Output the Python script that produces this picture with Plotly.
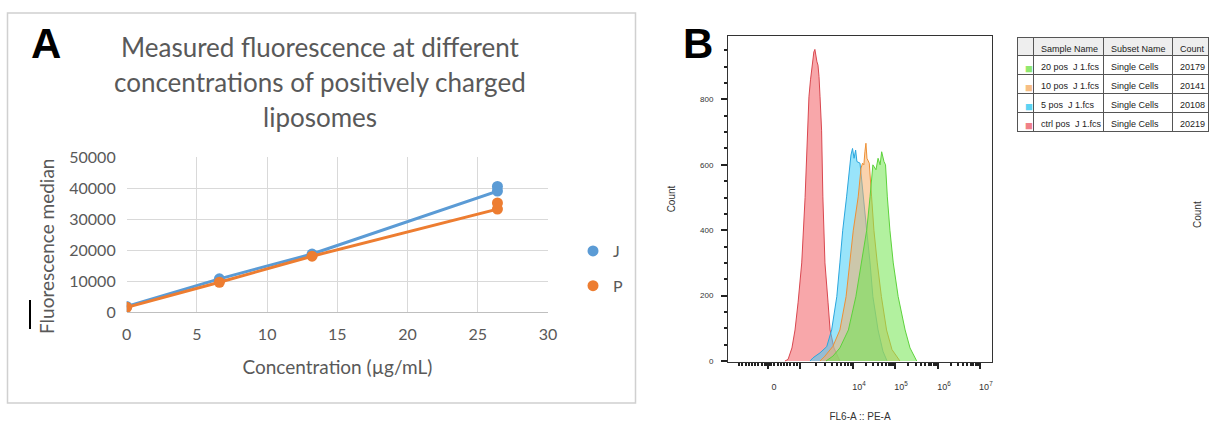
import math
import plotly.graph_objects as go

W, H = 1210, 426

# ---- panel A data (Excel chart) ----
conc = [0, 6.6, 13.2, 26.4, 26.4]
j_median = [1800, 10700, 18700, 39000, 40500]
p_median = [1500, 9600, 18000, 33200, 35200]

# ---- panel B data (flow histograms, x in display channels 0-1024) ----
ctrl_x = [221, 233, 248, 260, 272, 286, 299, 310, 314, 320, 326, 330, 333, 337, 341, 345, 349, 353, 357, 363, 368, 376, 388, 396, 411, 434]
ctrl_y = [0, 5, 40, 95, 180, 300, 500, 710, 808, 860, 900, 935, 945, 953, 930, 915, 905, 870, 808, 706, 502, 300, 180, 95, 40, 0]

pos5_x = [318, 330, 357, 383, 402, 422, 434, 445, 460, 469, 477, 483, 489, 495, 500, 512, 524, 538, 551, 562, 582, 601, 617]
pos5_y = [0, 10, 25, 44, 95, 197, 300, 400, 502, 580, 630, 650, 620, 645, 610, 605, 502, 400, 300, 197, 95, 30, 0]

pos10_x = [357, 376, 407, 434, 458, 473, 486, 505, 516, 522, 527, 531, 535, 539, 548, 557, 566, 579, 595, 615, 636, 667]
pos10_y = [0, 15, 45, 95, 197, 300, 400, 502, 590, 605, 600, 640, 666, 620, 605, 502, 400, 300, 197, 95, 35, 0]

pos20_x = [380, 407, 434, 467, 496, 518, 538, 551, 562, 574, 582, 590, 596, 605, 611, 618, 628, 641, 660, 687, 706, 732]
pos20_y = [0, 15, 40, 95, 197, 300, 400, 502, 600, 585, 620, 600, 640, 610, 600, 502, 400, 300, 197, 95, 40, 0]

# decade tick positions on the biexponential display axis
x_tick_pos = [155, 279, 485, 648, 815, 977]
x_tick_text = ["0", "", "10<sup>4</sup>", "10<sup>5</sup>", "10<sup>6</sup>", "10<sup>7</sup>"]

sample_names = ["20 pos  J 1.fcs", "10 pos  J 1.fcs", "5 pos  J 1.fcs", "ctrl pos  J 1.fcs"]
subset_names = ["Single Cells"] * 4
counts = ["20179", "20141", "20108", "20219"]


def px(x):
    return x / W


def py(y):
    return 1 - y / H


def nobreak(s):
    return s.replace(" ", "\u00a0")


# minor ticks for the flow x axis
minor_x = []
zero, k3 = x_tick_pos[0], x_tick_pos[1]
for m in range(1, 10):
    minor_x.append(zero + m / 10 * (k3 - zero))
    minor_x.append(zero - m / 10 * (k3 - zero))
for i in range(1, 5):
    a, b = x_tick_pos[i], x_tick_pos[i + 1]
    for m in range(2, 10):
        minor_x.append(a + math.log10(m) * (b - a))
minor_x += [zero - 6, zero - 4, zero - 2, zero + 2, zero + 4]

fig = go.Figure()

blue, orange = "#5B9BD5", "#ED7D31"
for name, vals, col in [("J", j_median, blue), ("P", p_median, orange)]:
    fig.add_trace(go.Scatter(x=conc, y=vals, mode="lines", line=dict(color=col, width=3),
                             showlegend=False, hoverinfo="skip"))
    fig.add_trace(go.Scatter(x=conc, y=vals, mode="markers", name=name, legendgroup=name,
                             marker=dict(color=col, size=11)))

hist = [
    (ctrl_x, ctrl_y, "#D9474F", "rgba(242,95,100,0.55)"),
    (pos5_x, pos5_y, "#2AA6DE", "rgba(70,205,245,0.55)"),
    (pos10_x, pos10_y, "#EE9035", "rgba(246,175,105,0.55)"),
    (pos20_x, pos20_y, "#5DD23C", "rgba(115,230,80,0.55)"),
]
for xs, ys, lc, fc in hist:
    fig.add_trace(go.Scatter(x=xs, y=ys, mode="lines", fill="tozeroy", fillcolor=fc,
                             line=dict(color=lc, width=1), showlegend=False,
                             xaxis="x2", yaxis="y2"))

sq_colors = ["#8FE870", "#F7BE85", "#5CD3F3", "#F08088"]
tfont = "Liberation Sans"
fig.add_trace(go.Table(
    domain=dict(x=[px(1017), px(1208)], y=[py(132), py(37)]),
    columnwidth=[16, 70, 69, 36],
    header=dict(values=["", nobreak("Sample Name"), nobreak("Subset Name"), "Count"], height=18,
                fill_color="#EEEEEE", line=dict(color="#555555", width=1), align="left",
                font=dict(family=tfont, size=9, color="#222222")),
    cells=dict(values=[["■"] * 4, [nobreak(s) for s in sample_names],
                       [nobreak(s) for s in subset_names], counts], height=19,
               fill_color="white", line=dict(color="#555555", width=1), align="left",
               font=dict(family=tfont, size=[13, 9, 9, 9],
                         color=[sq_colors, "#222222", "#222222", "#222222"])),
))

grey = "#595959"
afont = dict(family="Lato", size=16, color=grey)
fig.update_layout(
    width=W, height=H, margin=dict(l=0, r=0, t=0, b=0, autoexpand=False),
    paper_bgcolor="white", plot_bgcolor="white",
    font=dict(family="Lato", color=grey),
    xaxis=dict(domain=[px(126.7), px(548)], range=[0, 30], dtick=5, showgrid=True,
               gridcolor="#D9D9D9", showline=True, linecolor="#BFBFBF", zeroline=False,
               tickfont=afont, ticklabelstandoff=8, automargin=False,
               title=dict(text="Concentration (µg/mL)", font=dict(family="Lato", size=19, color=grey), standoff=18)),
    yaxis=dict(domain=[py(312), py(157)], range=[0, 50000], dtick=10000, showgrid=True,
               gridcolor="#D9D9D9", zeroline=False, tickfont=afont, ticklabelstandoff=10,
               tickformat="d", automargin=False),
    xaxis2=dict(domain=[px(728), px(992)], range=[0, 1024], anchor="y2", showgrid=False,
                zeroline=False, showline=True, mirror=True, linecolor="#333333", linewidth=1,
                tickvals=x_tick_pos, ticktext=x_tick_text, ticks="outside", ticklen=6, tickwidth=2,
                tickcolor="#222222", ticklabelshift=6, ticklabelstandoff=10, automargin=False,
                tickfont=dict(family="Liberation Sans", size=9, color="#333333"),
                minor=dict(tickvals=minor_x, ticks="outside", ticklen=3, tickcolor="#222222"),
                title=dict(text="FL6-A :: PE-A", font=dict(family="Liberation Sans", size=10, color="#333333"), standoff=22)),
    yaxis2=dict(domain=[py(362), py(36)], range=[-3, 994], anchor="x2", showgrid=False,
                zeroline=False, showline=True, mirror=True, linecolor="#333333", linewidth=1,
                tickvals=[0, 200, 400, 600, 800], ticks="outside", ticklen=6, tickwidth=2,
                tickcolor="#222222", ticklabelstandoff=6, automargin=False,
                tickfont=dict(family="Liberation Sans", size=8, color="#333333"),
                minor=dict(dtick=50, ticks="outside", ticklen=3, tickcolor="#222222"),
                title=dict(text="Count", font=dict(family="Liberation Sans", size=10, color="#333333"), standoff=22)),
    legend=dict(x=px(573), y=py(234), xanchor="left", yanchor="top", traceorder="grouped",
                tracegroupgap=11, font=dict(family="Lato", size=16, color=grey),
                bgcolor="rgba(0,0,0,0)", itemwidth=30),
)

title_lines = ["Measured fluorescence at different", "concentrations of positively charged", "liposomes"]
for i, t in enumerate(title_lines):
    fig.add_annotation(x=px(320), y=py(47 + 35 * i), xref="paper", yref="paper", text=t,
                       xanchor="center", yanchor="middle", showarrow=False,
                       font=dict(family="Lato", size=26, color=grey))

# Excel puts the value-axis title a little below the plot centre
fig.add_annotation(x=px(46), y=py(246), xref="paper", yref="paper", text="Fluorescence median",
                   textangle=-90, xanchor="center", yanchor="middle", showarrow=False,
                   font=dict(family="Lato", size=19, color=grey))

fig.add_annotation(x=px(46), y=py(43), xref="paper", yref="paper", text="<b>A</b>",
                   xanchor="center", yanchor="middle", showarrow=False,
                   font=dict(family="Liberation Sans", size=42, color="black"))
fig.add_annotation(x=px(698), y=py(43), xref="paper", yref="paper", text="<b>B</b>",
                   xanchor="center", yanchor="middle", showarrow=False,
                   font=dict(family="Liberation Sans", size=42, color="black"))
fig.add_annotation(x=px(1198), y=py(215), xref="paper", yref="paper", text="Count", textangle=-90,
                   xanchor="center", yanchor="middle", showarrow=False,
                   font=dict(family="Liberation Sans", size=10, color="#333333"))

# frame around panel A and the stray mark left of the y title
fig.add_shape(type="rect", xref="paper", yref="paper", x0=px(7.5), x1=px(635.5), y0=py(403), y1=py(13),
              line=dict(color="#D0D0D0", width=1.5))
fig.add_shape(type="line", xref="paper", yref="paper", x0=px(30), x1=px(30), y0=py(329), y1=py(300),
              line=dict(color="black", width=2))

# page body has a default 8px margin; drop it so the figure fills the window
fig.write_html("out.html", config={"displayModeBar": False},
               post_script="document.body.style.margin='0';")
